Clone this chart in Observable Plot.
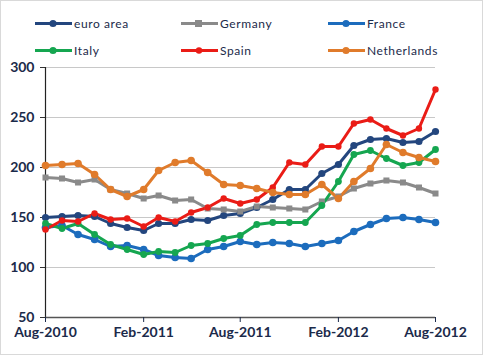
<!DOCTYPE html>
<html><head><meta charset="utf-8">
<script src="https://cdn.jsdelivr.net/npm/d3@7"></script>
<script src="https://cdn.jsdelivr.net/npm/@observablehq/plot@0.6"></script>
<style>
html,body{margin:0;padding:0;background:#fff;}
#wrap{width:483px;height:355px;box-sizing:border-box;border:1px solid #d9d9d9;position:relative;overflow:hidden;font-family:Lato,sans-serif;}
#legend{height:55px;position:relative;}
.item{position:absolute;display:flex;align-items:center;font-size:12px;color:#1b2a4a;letter-spacing:0.6px;}
.item svg{margin-right:2px;}
</style>
</head><body>
<div id="wrap"><div id="legend"></div><div id="chart"></div></div>
<script>
const months = ["2010-08","2010-09","2010-10","2010-11","2010-12","2011-01","2011-02","2011-03","2011-04","2011-05","2011-06","2011-07","2011-08","2011-09","2011-10","2011-11","2011-12","2012-01","2012-02","2012-03","2012-04","2012-05","2012-06","2012-07","2012-08"];
const seriesNames = ["euro area","Germany","France","Italy","Spain","Netherlands"];
const seriesColors = ["#23467e","#8a8a8a","#1c6cbd","#15a650","#ea1c16","#e07b2b"];
const seriesSymbols = ["circle","square","circle","circle","circle","circle"];
const seriesRadius = [3.6,3.4,3.8,3.4,3.2,3.8];
const euroArea   = [150,151,152,151,144,140,137,144,144,148,147,152,154,160,168,178,178,194,203,222,228,229,225,226,236];
const germany    = [190,189,185,188,178,174,169,172,167,168,159,158,156,161,160,159,158,166,171,179,184,187,185,180,174];
const france     = [140,142,133,128,121,122,118,112,110,109,118,121,126,123,125,124,121,124,127,136,143,149,150,148,145];
const italy      = [144,139,144,133,123,118,113,116,115,122,124,129,132,143,145,145,145,162,186,213,217,209,202,205,218];
const spain      = [138,147,146,154,148,149,141,150,146,155,160,169,164,168,180,205,203,221,221,244,248,239,232,239,278];
const netherlands= [202,203,204,193,178,171,178,197,205,207,195,183,182,179,175,173,173,183,169,186,199,223,215,210,206];
const yTicks = [50,100,150,200,250,300];
const xTickLabels = ["Aug-2010","Feb-2011","Aug-2011","Feb-2012","Aug-2012"];
const xTickMonths = ["2010-08","2011-02","2011-08","2012-02","2012-08"];

const allValues = [euroArea, germany, france, italy, spain, netherlands];
const parse = d3.utcParse("%Y-%m");
const data = [];
seriesNames.forEach((name, s) => {
  months.forEach((m, i) => data.push({series: name, date: parse(m), value: allValues[s][i]}));
});
const xTicks = xTickMonths.map(parse);
const labelOf = new Map(xTickMonths.map((m, i) => [+parse(m), xTickLabels[i]]));

// legend
const legend = document.getElementById("legend");
const legendPos = [[34,15],[180,15],[327,15],[34,42],[180,42],[327,42]];
seriesNames.forEach((name, s) => {
  const div = document.createElement("div");
  div.className = "item";
  div.style.left = legendPos[s][0] + "px";
  div.style.top = legendPos[s][1] + "px";
  const mk = seriesSymbols[s] === "square"
    ? `<rect x="14" y="3" width="7" height="7" fill="${seriesColors[s]}"/>`
    : `<circle cx="18" cy="6.5" r="${s===4?3.2:3.6}" fill="${seriesColors[s]}"/>`;
  div.innerHTML = `<svg width="37" height="13"><line x1="0" x2="37" y1="6.5" y2="6.5" stroke="${seriesColors[s]}" stroke-width="3"/>${mk}</svg><span>${name}</span>`;
  legend.appendChild(div);
});

const color = {domain: seriesNames, range: seriesColors};
const chart = Plot.plot({
  width: 481,
  height: 298,
  marginLeft: 44,
  marginRight: 47,
  marginTop: 11,
  marginBottom: 37,
  style: {fontFamily: "Lato, sans-serif", fontSize: "14px", color: "#1b2a4a", background: "transparent", overflow: "visible"},
  x: {type: "utc", domain: [parse(months[0]), parse(months[months.length-1])]},
  y: {domain: [50, 300]},
  color,
  symbol: {domain: seriesNames, range: seriesSymbols},
  marks: [
    Plot.gridY(yTicks.filter(d => d > 50), {stroke: "#c8c8c8", strokeOpacity: 1, strokeWidth: 1}),
    Plot.axisY({ticks: yTicks, tickSize: 5, tickPadding: 6, label: null, fontWeight: "bold", fill: "#1b2a4a", stroke: "#333", fontSize: 14, style:{letterSpacing:"0.8px"}}),
    Plot.ruleX([parse(months[0])], {stroke: "#222", strokeWidth: 1.2}),
    Plot.ruleY([50], {stroke: "#555", strokeWidth: 1.5}),
    Plot.axisX({ticks: xTicks, tickSize: 5, tickPadding: 5, label: null, tickFormat: d => labelOf.get(+d), fontWeight: "bold", fill: "#1b2a4a", fontSize: 14, style:{letterSpacing:"0.8px"}}),
    Plot.line(data, {x: "date", y: "value", z: "series", stroke: "series", strokeWidth: 3, curve: "linear"}),
    ...seriesNames.map((name, s) => Plot.dot(data.filter(d => d.series === name), {x: "date", y: "value", fill: seriesColors[s], r: seriesRadius[s], symbol: seriesSymbols[s], stroke: "none"}))
  ]
});
document.getElementById("chart").appendChild(chart);
</script>
</body></html>
